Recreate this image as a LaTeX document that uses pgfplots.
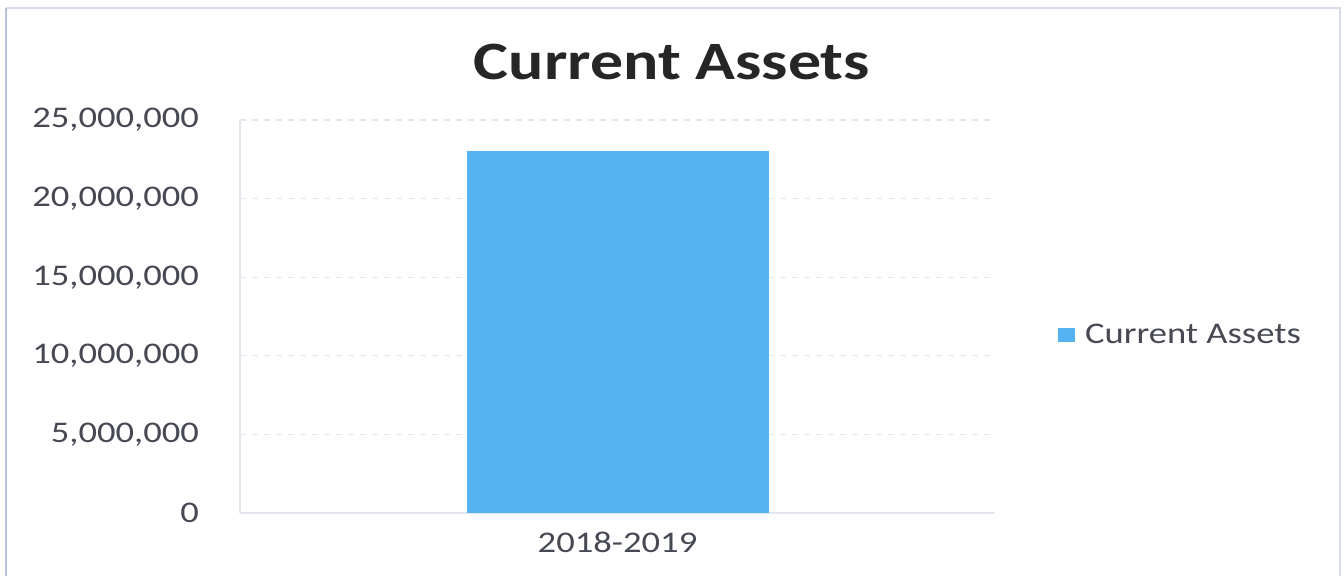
\documentclass[border=0pt]{standalone}
\usepackage{pgfplots}
\pgfplotsset{compat=1.18}
\usepackage{fontspec}
\setmainfont{Carlito}[FakeStretch=1.22]
\definecolor{barblue}{RGB}{84,178,240}
\definecolor{txt}{RGB}{70,72,84}
\definecolor{gridc}{RGB}{226,230,238}
\definecolor{frame}{RGB}{185,192,215}
\definecolor{framelight}{RGB}{215,220,235}
\begin{document}
\begin{tikzpicture}
\path[use as bounding box] (0,0) rectangle (672pt,288pt);
\draw[framelight, line width=1pt] (3pt,284pt) -- (670pt,284pt) -- (670pt,-1pt);
\draw[frame, line width=1.4pt] (3pt,-1pt) -- (3pt,284pt);
\node[font=\fontsize{27}{32}\selectfont\bfseries, text=black!85] at (336pt,257pt) {Current Assets};
\begin{axis}[
  at={(120pt,31.5pt)}, anchor=south west,
  scale only axis, width=377.5pt, height=196.5pt,
  xmin=-0.5, xmax=0.5, ymin=0, ymax=25000000,
  ytick={0,5000000,10000000,15000000,20000000,25000000},
  xtick={0}, xticklabels={2018-2019},
  scaled y ticks=false,
  /pgf/number format/.cd, fixed, 1000 sep={,}, assume math mode=true,
  /pgfplots/.cd,
  ymajorgrids, grid style={gridc, dashed, line width=0.6pt},
  axis x line*=bottom, axis y line*=left,
  axis line style={gridc, line width=0.6pt},
  major tick style={draw=none},
  tick label style={font=\fontsize{15}{18}\selectfont, text=txt},
  yticklabel style={xshift=-17pt},
  xticklabel style={yshift=-6pt},
  legend style={at={(1.075,0.453)}, anchor=west, draw=none, fill=none,
    font=\fontsize{15}{18}\selectfont, text=txt},
  legend image code/.code={\fill[barblue] (0pt,-3.5pt) rectangle (8.5pt,3.5pt);},
  legend cell align=left,
  legend style={/tikz/every even column/.append style={column sep=0pt}},
  legend style={nodes={inner xsep=5pt}},
]
\addplot[ybar, bar width=151pt, fill=barblue, draw=none] coordinates {(0,23000000)};
\addlegendentry{Current Assets}
\draw[gridc, line width=0.6pt] (rel axis cs:1,0) -- ++(0pt,-3pt);
\end{axis}
\end{tikzpicture}
\end{document}
